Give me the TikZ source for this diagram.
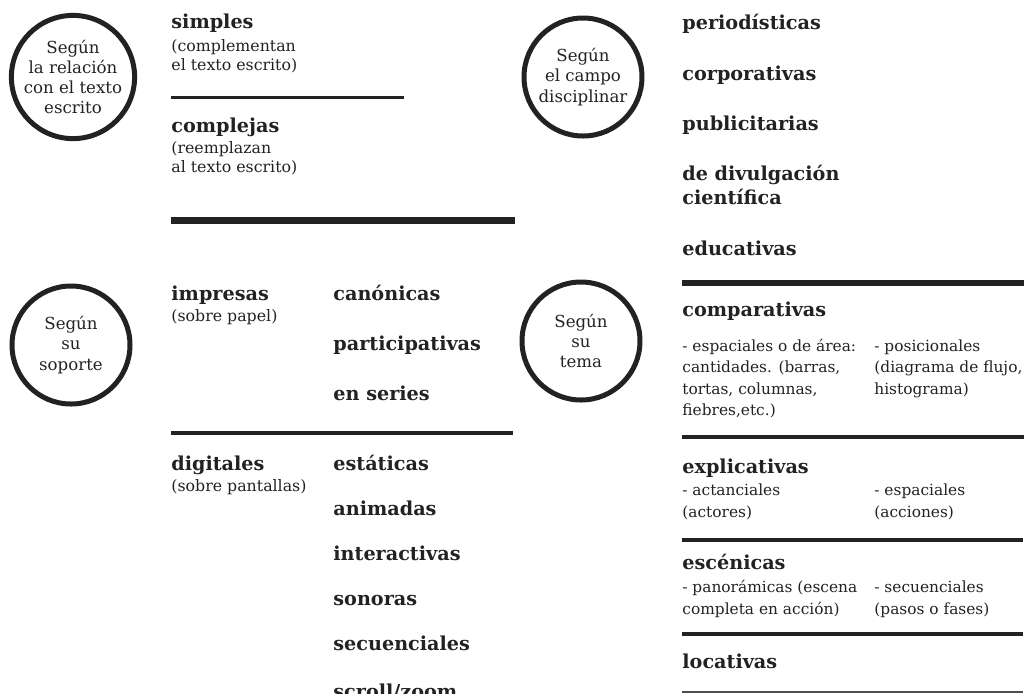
\documentclass[tikz,border=0pt]{standalone}
\usepackage{fontspec}
\setmainfont{DejaVu Serif}
\usepackage{tikz}
\usetikzlibrary{positioning}

\definecolor{ink}{HTML}{222222}

\tikzset{
  ring/.style={circle, draw=ink, line width=2.5pt, minimum size=59pt, inner sep=0pt,
    align=center, text=ink, font=\fontsize{8.3}{10.15}\selectfont},
  head/.style={anchor=base west, inner sep=0pt, text=ink, align=left,
    font=\bfseries\fontsize{9.6}{12}\selectfont},
  note/.style={anchor=base west, inner sep=0pt, text=ink, align=left,
    font=\fontsize{7.9}{9.15}\selectfont},
  wide note/.style={note, font=\fontsize{7.7}{10.75}\selectfont},
  rule/.style={draw=ink, line width=1.6pt},
  thick rule/.style={draw=ink, line width=3.4pt}
}

\begin{document}
\begin{tikzpicture}[x=0.5pt, y=-0.5pt]

\useasboundingbox (0,0) rectangle (1030,693);

% circles
\node(relacion)[ring] at (73,77){Según\\la relación\\con el texto\\escrito};

\node(campo)[ring] at (583,77){Según\\el campo\\disciplinar};

\node(soporte)[ring] at (71,345){Según\\su\\soporte};

\node(tema)[ring] at (581,341){Según\\su\\tema};

% relacion con el texto (multi-line nodes sit on their last line)
\node(simples)[head] at (171,28.3){simples};

\node(simplesn)[note] at (171,70){(complementan\\el texto escrito)};

\draw[rule] (171,97.7) -- (404,97.7);

\node(complejas)[head] at (171,132){complejas};

\node(complejasn)[note] at (171,172){(reemplazan\\al texto escrito)};

\draw[thick rule] (171,220.5) -- (515,220.5);

% soporte
\node(impresas)[head] at (171,300){impresas};

\node(impresasn)[note] at (171,321.5){(sobre papel)};

\node(canonicas)[head] at (333,300){canónicas};

\node(participativas)[head] at (333,350){participativas};

\node(series)[head] at (333,400){en series};

\draw[rule] (171,433) -- (513,433);

\node(digitales)[head] at (171,470){digitales};

\node(digitalesn)[note] at (171,491.7){(sobre pantallas)};

\node(estaticas)[head] at (333,470){estáticas};

\node(animadas)[head] at (333,515){animadas};

\node(interactivas)[head] at (333,560){interactivas};

\node(sonoras)[head] at (333,605){sonoras};

\node(secuenciales)[head] at (333,650){secuenciales};

\node(scroll)[head] at (333,698){scroll/zoom};

% campo disciplinar
\node(periodisticas)[head] at (682,29.3){periodísticas};

\node(corporativas)[head] at (682,80){corporativas};

\node(publicitarias)[head] at (682,130){publicitarias};

\node(divulgacion)[head] at (682,204){de divulgación\\científica};

\node(educativas)[head] at (682,255){educativas};

\draw[thick rule] (682,283) -- (1024,283);

% tema
\node(comparativas)[head] at (682,316){comparativas};

\node(espaciales)[wide note] at (682,415.5){- espaciales o de área:\\cantidades. (barras,\\tortas, columnas,\\fiebres,etc.)};

\node(posicionales)[wide note] at (874,394){- posicionales\\(diagrama de flujo,\\histograma)};

\draw[rule] (682,437) -- (1024,437);

\node(explicativas)[head] at (682,473){explicativas};

\node(actanciales)[wide note] at (682,517){- actanciales\\(actores)};

\node(acciones)[wide note] at (874,517){- espaciales\\(acciones)};

\draw[rule] (682,540) -- (1023,540);

\node(escenicas)[head] at (682,569){escénicas};

\node(panoramicas)[wide note] at (682,614){- panorámicas (escena\\completa en acción)};

\node(pasos)[wide note] at (874,614){- secuenciales\\(pasos o fases)};

\draw[rule] (682,634) -- (1023,634);

\node(locativas)[head] at (682,668){locativas};

\draw[draw=ink!80, line width=1pt] (682,692) -- (1023,692);

\end{tikzpicture}
\end{document}
